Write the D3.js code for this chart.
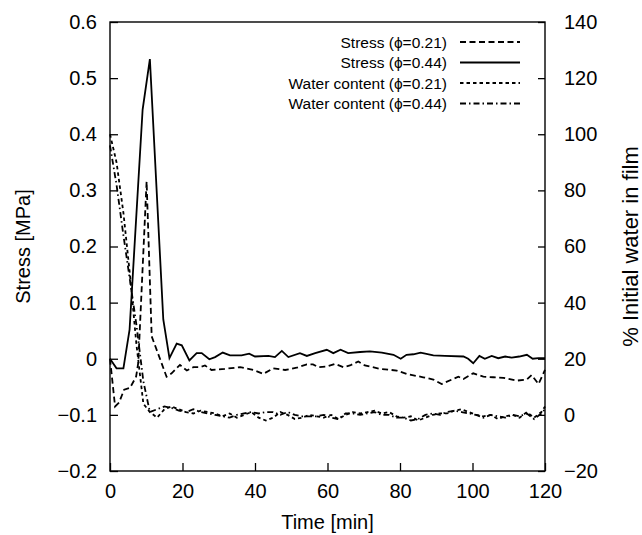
<!DOCTYPE html>
<html>
<head>
<meta charset="utf-8">
<script src="https://cdn.jsdelivr.net/npm/d3@7"></script>
<style>
  body { margin: 0; background: #fff; }
  text { font-family: "Liberation Sans", Arial, Helvetica, sans-serif; fill: #000; }
</style>
</head>
<body>
<div id="chart"></div>
<script>
// Stress (phi = 0.44), solid line
const tStress44 = [0, 1.8, 3.7, 5.4, 9.0, 11.0, 14.7, 16.4, 18.4, 19.8, 21.9, 23.9, 25.3, 27.4, 29, 31.1, 33.1, 36.3, 38.4, 40,
  43.7, 45.5, 47.4, 49.2, 52.4, 54.3, 56.6, 59.8, 61.6, 63.6, 65.7, 69, 71.7, 75, 78.2, 80.2, 81.8, 83.7, 85.7, 89.2,
  92.4, 97.5, 98.8, 100.2, 101.9, 103.4, 105.3, 107.1, 109, 110.8, 112.9, 115, 116.6, 118.2, 120];
const stress44 = [0.0, -0.017, -0.017, 0.052, 0.444, 0.534, 0.07, 0.001, 0.027, 0.024, -0.003, 0.010, 0.010, -0.001, 0.003, 0.011, 0.006, 0.006, 0.009, 0.004,
  0.005, 0.003, 0.014, 0.003, 0.01, 0.005, 0.01, 0.016, 0.01, 0.016, 0.01, 0.012, 0.013, 0.011, 0.007, 0.0, 0.007, 0.008, 0.011, 0.006,
  0.005, 0.004, 0.0, -0.008, 0.005, 0.0, 0.005, 0.001, 0.004, 0.002, 0.004, 0.007, 0.0, 0.001, 0.001];

// Stress (phi = 0.21), dashed line
const tStress21 = [0, 1.4, 2.5, 3.9, 5.5, 7.2, 7.8, 10.1, 11.5, 15.6, 17.0, 19.3, 21.2, 23, 24.8, 26.2, 28, 31.7, 35.9, 39.5,
  42.3, 45, 48.3, 51.5, 54.3, 56, 57.5, 59.8, 62.1, 64.4, 66.2, 68.5, 70.3, 74.5, 79.1, 81.8, 86.4, 89.2, 91.5, 94.3,
  96.1, 97.5, 100.2, 103, 105.7, 108.5, 112.2, 115, 116.3, 118.2, 120];
const stress21 = [0.0, -0.085, -0.078, -0.055, -0.052, -0.032, -0.007, 0.316, 0.04, -0.032, -0.026, -0.011, -0.021, -0.015, -0.015, -0.012, -0.02, -0.018, -0.015, -0.02,
  -0.027, -0.017, -0.02, -0.016, -0.01, -0.01, -0.015, -0.014, -0.009, -0.015, -0.012, -0.005, -0.012, -0.018, -0.021, -0.027, -0.033, -0.037, -0.045, -0.037,
  -0.032, -0.036, -0.026, -0.032, -0.033, -0.034, -0.039, -0.037, -0.029, -0.045, -0.02];

// Water content, % of initial water (right axis)
const tWater = [0, 1.8, 3.7, 5.5, 7.3, 9.2, 11, 13, 15, 17, 19, 21, 23, 25, 27, 29, 31, 33, 35, 37,
  39, 41, 43, 45, 47, 49, 51, 53, 55, 57, 59, 61, 63, 65, 67, 69, 71, 73, 75, 77,
  79, 81, 83, 85, 87, 89, 91, 93, 95, 97, 99, 101, 103, 105, 107, 109, 111, 113, 115, 117,
  119, 120];
const water21 = [100, 90, 72, 50, 25, 4, 1, -1, 2, 3, 2, 1, 0.5, 1.5, 1, 0.5, -0.5, 0.5, -1, 0,
  1, -1, -2, -1, 1, 0, -1.5, -1, 0, -0.5, -1, 0, -1.5, 0, 1, 0.5, 1, 1.5, 0.5, 1,
  -0.5, -1, -0.5, -2, -1, 0, 0.5, 0.5, 1.5, 2, 1, 0, -0.5, 0, -1.5, -0.5, 0, -1, 1, -1,
  1, 3];
const water44 = [96, 82, 64, 48, 32, 12, 1, 2, 3, 2.5, 1.5, 1, 2, 1, 0.5, 0, -0.5, -1, 0, 0.5,
  1, 0.5, 1, 1, 0, 1, 0, -0.5, -0.5, -0.5, 0, -1, -1.5, 0.5, 0.5, 0, 0.5, 1, 0, 0,
  -1, -1, -2, -1.5, 0, 0.5, 0, 1, 1.5, 1, 0.5, 0, -1, 0, -0.5, -1, 0, -0.5, 0.5, -1.5,
  0.5, 2];

const xTicks = [0, 20, 40, 60, 80, 100, 120];
const yLeftTicks = [-0.2, -0.1, 0, 0.1, 0.2, 0.3, 0.4, 0.5, 0.6];
const yRightTicks = [-20, 0, 20, 40, 60, 80, 100, 120, 140];

const legendLabels = ['Stress (\u03d5=0.21)', 'Stress (\u03d5=0.44)', 'Water content (\u03d5=0.21)', 'Water content (\u03d5=0.44)'];

const width = 642, height = 535;
const margin = {top: 22, right: 97, bottom: 64, left: 110};

const svg = d3.select('#chart').append('svg')
    .attr('width', width)
    .attr('height', height);

const x = d3.scaleLinear().domain([0, 120]).range([margin.left, width - margin.right]);
const yL = d3.scaleLinear().domain([-0.2, 0.6]).range([height - margin.bottom, margin.top]);
const yR = d3.scaleLinear().domain([-20, 140]).range([height - margin.bottom, margin.top]);

const fmtL = v => v === 0 ? '0' : d3.format('.1f')(v);

// axes with inward ticks
const axL = svg.append('g')
    .attr('transform', `translate(${margin.left},0)`)
    .call(d3.axisLeft(yL).tickValues(yLeftTicks).tickFormat(fmtL).tickSize(-8).tickPadding(13));
const axR = svg.append('g')
    .attr('transform', `translate(${width - margin.right},0)`)
    .call(d3.axisRight(yR).tickValues(yRightTicks).tickFormat(d3.format('d')).tickSize(-7).tickPadding(19));
const axB = svg.append('g')
    .attr('transform', `translate(0,${height - margin.bottom})`)
    .call(d3.axisBottom(x).tickValues(xTicks).tickFormat(d3.format('d')).tickSize(-8).tickPadding(13));

[axL, axR, axB].forEach(g => {
    g.select('.domain').remove();
    g.selectAll('line').attr('stroke', '#000').attr('stroke-width', 1.3);
    g.selectAll('text').attr('font-size', '20px').attr('fill', '#000')
        .style('font-family', '"Liberation Sans", Arial, sans-serif');
});

// frame
svg.append('rect')
    .attr('x', margin.left)
    .attr('y', margin.top)
    .attr('width', width - margin.left - margin.right)
    .attr('height', height - margin.top - margin.bottom)
    .attr('fill', 'none')
    .attr('stroke', '#000')
    .attr('stroke-width', 1.4);

const styles = [
    {dash: '6,3.5'},
    {dash: null},
    {dash: '3.5,3'},
    {dash: '6,3,1.5,3'}
];

const series = [
    {t: tStress21, v: stress21, y: yL, s: styles[0]},
    {t: tStress44, v: stress44, y: yL, s: styles[1]},
    {t: tWater, v: water21, y: yR, s: styles[2]},
    {t: tWater, v: water44, y: yR, s: styles[3]}
];

series.forEach(sr => {
    const line = d3.line()
        .x((d, i) => x(sr.t[i]))
        .y(d => sr.y(d));
    svg.append('path')
        .datum(sr.v)
        .attr('d', line)
        .attr('fill', 'none')
        .attr('stroke', '#000')
        .attr('stroke-width', 1.8)
        .attr('stroke-dasharray', sr.s.dash);
});

// legend
const lg = svg.append('g');
legendLabels.forEach((lab, i) => {
    const yy = 42 + i * 20.5;
    lg.append('text')
        .attr('x', 447)
        .attr('y', yy)
        .attr('text-anchor', 'end')
        .attr('dominant-baseline', 'central')
        .attr('font-size', '15.5px')
        .text(lab);
    lg.append('line')
        .attr('x1', 460).attr('x2', 520)
        .attr('y1', yy).attr('y2', yy)
        .attr('stroke', '#000')
        .attr('stroke-width', 1.8)
        .attr('stroke-dasharray', styles[i].dash);
});

// axis titles
svg.append('text')
    .attr('transform', `translate(23,${(margin.top + height - margin.bottom) / 2}) rotate(-90)`)
    .attr('text-anchor', 'middle')
    .attr('dominant-baseline', 'central')
    .attr('font-size', '20px')
    .text('Stress [MPa]');

svg.append('text')
    .attr('transform', `translate(630,${(margin.top + height - margin.bottom) / 2}) rotate(-90)`)
    .attr('text-anchor', 'middle')
    .attr('dominant-baseline', 'central')
    .attr('font-size', '22px')
    .text('% Initial water in film');

svg.append('text')
    .attr('x', (margin.left + width - margin.right) / 2)
    .attr('y', 522)
    .attr('text-anchor', 'middle')
    .attr('dominant-baseline', 'central')
    .attr('font-size', '20px')
    .text('Time [min]');
</script>
</body>
</html>
